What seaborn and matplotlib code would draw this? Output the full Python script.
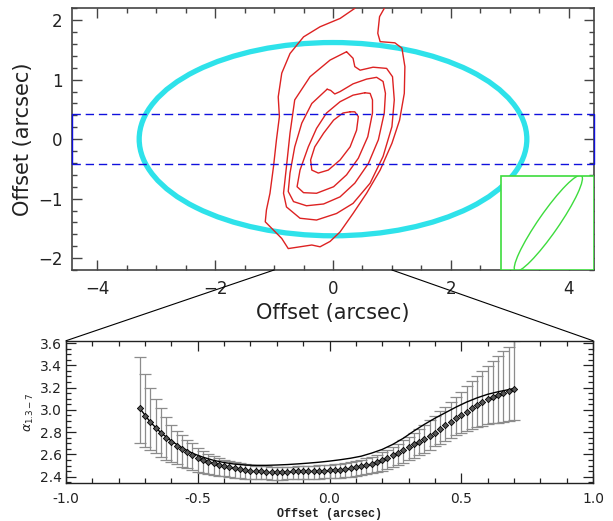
import numpy as np
import matplotlib
matplotlib.use("Agg")
import matplotlib.pyplot as plt
import seaborn as sns
from matplotlib.patches import Ellipse, Rectangle, ConnectionPatch
from matplotlib.ticker import MultipleLocator, FormatStrFormatter

# ---------------- map panel data (arcsec) ----------------
aperture_center = (0.0, 0.0)
aperture_semi_x = 3.29
aperture_semi_y = 1.625

slit_half_width = 0.42

beam_center = (3.655, -1.415)
beam_major = 1.96
beam_minor = 0.34
beam_angle = 55.0
beam_box_x0 = 2.85
beam_box_y1 = -0.62

# continuum contours, outermost first
contour1_x = [0.40, 0.37, 0.12, -0.22, -0.50, -0.73, -0.87, -0.93, -0.91, -0.96, -1.01, -1.07,
              -1.13, -1.15, -1.01, -0.87, -0.76, -0.56, -0.36, -0.22, -0.05, 0.12, 0.34, 0.57,
              0.80, 1.00, 1.13, 1.21, 1.22, 1.17, 1.05, 0.80, 0.76, 0.79, 0.87, 0.88]
contour1_y = [2.26, 2.20, 2.03, 1.89, 1.72, 1.44, 1.11, 0.71, 0.38, -0.01, -0.46, -0.91,
              -1.19, -1.39, -1.53, -1.67, -1.84, -1.81, -1.78, -1.81, -1.72, -1.56, -1.25, -0.91,
              -0.52, -0.07, 0.32, 0.77, 1.22, 1.53, 1.62, 1.64, 1.78, 2.06, 2.20, 2.26]

contour2_x = [0.23, -0.05, -0.39, -0.65, -0.73, -0.79, -0.84, -0.79, -0.56, -0.28, 0.06, 0.34,
              0.63, 0.85, 1.00, 1.04, 1.01, 0.91, 0.68, 0.46, 0.37, 0.34, 0.23]
contour2_y = [1.47, 1.33, 1.05, 0.66, 0.10, -0.46, -0.91, -1.14, -1.33, -1.36, -1.25, -1.08,
              -0.74, -0.29, 0.21, 0.66, 1.05, 1.19, 1.21, 1.16, 1.22, 1.36, 1.47]

contour3_x = [-0.10, -0.36, -0.53, -0.65, -0.73, -0.76, -0.67, -0.45, -0.16, 0.12, 0.37, 0.60,
              0.77, 0.87, 0.89, 0.85, 0.74, 0.57, 0.34, 0.12, 0.03, -0.04, -0.10]
contour3_y = [0.84, 0.60, 0.27, -0.13, -0.57, -0.88, -1.05, -1.12, -1.09, -0.97, -0.74, -0.41,
              -0.01, 0.44, 0.77, 0.97, 1.04, 1.01, 0.93, 0.80, 0.76, 0.82, 0.84]

contour4_x = [0.54, 0.34, 0.12, -0.11, -0.28, -0.42, -0.56, -0.61, -0.50, -0.28, 0.01, 0.23,
              0.43, 0.59, 0.67, 0.67, 0.63, 0.54]
contour4_y = [0.78, 0.74, 0.63, 0.44, 0.18, -0.13, -0.52, -0.80, -0.90, -0.91, -0.80, -0.60,
              -0.32, 0.04, 0.44, 0.66, 0.77, 0.78]

contour5_x = [0.29, 0.17, 0.01, -0.16, -0.31, -0.38, -0.36, -0.25, -0.08, 0.12, 0.29, 0.40,
              0.43, 0.37, 0.29]
contour5_y = [0.46, 0.44, 0.32, 0.10, -0.13, -0.35, -0.52, -0.57, -0.52, -0.35, -0.13, 0.15,
              0.38, 0.46, 0.46]

contours = [(contour1_x, contour1_y), (contour2_x, contour2_y), (contour3_x, contour3_y),
            (contour4_x, contour4_y), (contour5_x, contour5_y)]

# ---------------- spectral index profile ----------------
offset = np.round(np.arange(-0.72, 0.7001, 0.02), 2)
alpha = [3.014, 2.945, 2.888, 2.834, 2.789, 2.745, 2.709, 2.675, 2.646, 2.619,
         2.595, 2.572, 2.552, 2.535, 2.520, 2.506, 2.494, 2.483, 2.474, 2.466,
         2.460, 2.455, 2.451, 2.448, 2.446, 2.445, 2.445, 2.445, 2.446, 2.447,
         2.448, 2.448, 2.449, 2.450, 2.452, 2.454, 2.457, 2.460, 2.464, 2.469,
         2.475, 2.483, 2.493, 2.504, 2.517, 2.533, 2.550, 2.570, 2.592, 2.615,
         2.640, 2.665, 2.690, 2.715, 2.738, 2.765, 2.795, 2.827, 2.860, 2.893,
         2.925, 2.955, 2.983, 3.015, 3.045, 3.072, 3.097, 3.118, 3.138, 3.156,
         3.172, 3.186]
alpha_upper = [3.477, 3.322, 3.199, 3.094, 3.019, 2.940, 2.864, 2.813, 2.774, 2.730,
               2.700, 2.660, 2.630, 2.605, 2.585, 2.567, 2.552, 2.540, 2.529, 2.520,
               2.512, 2.505, 2.500, 2.496, 2.493, 2.491, 2.490, 2.490, 2.490, 2.491,
               2.493, 2.495, 2.497, 2.499, 2.502, 2.505, 2.509, 2.513, 2.518, 2.524,
               2.531, 2.540, 2.551, 2.564, 2.579, 2.597, 2.618, 2.642, 2.668, 2.697,
               2.728, 2.760, 2.794, 2.829, 2.866, 2.905, 2.945, 2.987, 3.030, 3.074,
               3.119, 3.165, 3.211, 3.258, 3.305, 3.352, 3.398, 3.443, 3.486, 3.527,
               3.565, 3.620]
alpha_lower = [2.705, 2.669, 2.640, 2.610, 2.580, 2.550, 2.535, 2.510, 2.490, 2.475,
               2.460, 2.445, 2.436, 2.426, 2.417, 2.409, 2.402, 2.396, 2.391, 2.387,
               2.383, 2.380, 2.378, 2.376, 2.375, 2.374, 2.374, 2.374, 2.375, 2.376,
               2.377, 2.378, 2.379, 2.380, 2.382, 2.384, 2.386, 2.389, 2.392, 2.396,
               2.401, 2.407, 2.414, 2.422, 2.431, 2.442, 2.455, 2.470, 2.487, 2.505,
               2.525, 2.546, 2.568, 2.591, 2.614, 2.638, 2.672, 2.698, 2.724, 2.748,
               2.771, 2.792, 2.812, 2.830, 2.846, 2.859, 2.870, 2.879, 2.886, 2.891,
               2.896, 2.905]

model_offset = [-0.72, -0.68, -0.64, -0.60, -0.56, -0.52, -0.48, -0.44, -0.40, -0.36,
                -0.32, -0.28, -0.24, -0.20, -0.16, -0.12, -0.08, -0.04, 0.00, 0.04,
                0.08, 0.12, 0.16, 0.20, 0.24, 0.28, 0.32, 0.36, 0.40, 0.44,
                0.48, 0.52, 0.56, 0.60, 0.64, 0.68, 0.70]
model_alpha = [3.014, 2.890, 2.795, 2.720, 2.660, 2.610, 2.575, 2.547, 2.527, 2.513,
               2.505, 2.502, 2.502, 2.505, 2.509, 2.515, 2.522, 2.530, 2.540, 2.552,
               2.566, 2.584, 2.612, 2.645, 2.690, 2.745, 2.810, 2.870, 2.925, 2.975,
               3.025, 3.070, 3.108, 3.140, 3.163, 3.182, 3.192]

map_xlim = (-4.43, 4.43)
map_ylim = (-2.2, 2.2)
prof_xlim = (-1.0, 1.0)
prof_ylim = (2.346, 3.621)

# ---------------- figure ----------------
sns.set_style("ticks")
plt.rcParams["font.family"] = ["DejaVu Sans"]

fig = plt.figure(figsize=(6.13, 5.21), dpi=100)
ax = fig.add_axes([0.1175, 0.4818, 0.8515, 0.5022])
ax2 = fig.add_axes([0.1077, 0.0735, 0.8597, 0.2725])

# map panel
ax.add_patch(Ellipse(aperture_center, 2 * aperture_semi_x, 2 * aperture_semi_y,
                     fill=False, ec="#2ee2ea", lw=3.8, zorder=2))
for cx, cy in contours:
    ax.plot(cx, cy, color="#dd2222", lw=1.0, zorder=3, solid_joinstyle="round")
for yy in (-slit_half_width, slit_half_width):
    ax.plot(map_xlim, [yy, yy], color="#1010dd", lw=1.0, dashes=(6, 3.5), zorder=4)
for xx in map_xlim:
    ax.plot([xx, xx], [-slit_half_width, slit_half_width], color="#1010dd", lw=1.0,
            zorder=6, clip_on=False)

box = Rectangle((beam_box_x0, map_ylim[0]), map_xlim[1] - beam_box_x0,
                beam_box_y1 - map_ylim[0], fc="white", ec="#3ddc3d", lw=1.2, zorder=5)
ax.add_patch(box)
beam = Ellipse(beam_center, beam_major, beam_minor, angle=beam_angle,
               fill=False, ec="#3ddc3d", lw=1.0, zorder=6)
ax.add_patch(beam)
beam.set_clip_path(box)

ax.set_xlim(*map_xlim)
ax.set_ylim(*map_ylim)
ax.xaxis.set_major_locator(MultipleLocator(2))
ax.xaxis.set_minor_locator(MultipleLocator(0.5))
ax.yaxis.set_major_locator(MultipleLocator(1))
ax.yaxis.set_minor_locator(MultipleLocator(0.2))
ax.tick_params(which="both", direction="in", top=True, right=True, color="#444444",
               width=1.0, labelsize=12, labelcolor="#222222")
ax.tick_params(which="major", length=7, pad=7)
ax.tick_params(which="minor", length=3.5)
for sp in ax.spines.values():
    sp.set_color("#444444")
    sp.set_linewidth(1.2)
ax.set_xlabel("Offset (arcsec)", fontsize=15, color="#222222")
ax.set_ylabel("Offset (arcsec)", fontsize=15, color="#222222")
ax.xaxis.set_label_coords(0.5, -0.125)
ax.yaxis.set_label_coords(-0.075, 0.5)

# profile panel
ax2.errorbar(offset, alpha,
             yerr=[np.array(alpha) - np.array(alpha_lower),
                   np.array(alpha_upper) - np.array(alpha)],
             fmt="none", ecolor="#8c8c8c", elinewidth=0.9, capsize=4, capthick=0.9,
             zorder=2)
sns.lineplot(x=model_offset, y=model_alpha, color="black", lw=1.0, ax=ax2, zorder=3)
sns.scatterplot(x=offset, y=alpha, marker="D", s=10, color="#555555",
                edgecolor="black", linewidth=0.6, ax=ax2, zorder=4)

ax2.set_xlim(*prof_xlim)
ax2.set_ylim(*prof_ylim)
ax2.xaxis.set_major_locator(MultipleLocator(0.5))
ax2.xaxis.set_minor_locator(MultipleLocator(0.1))
ax2.yaxis.set_major_locator(MultipleLocator(0.2))
ax2.yaxis.set_minor_locator(MultipleLocator(0.05))
ax2.xaxis.set_major_formatter(FormatStrFormatter("%.1f"))
ax2.yaxis.set_major_formatter(FormatStrFormatter("%.1f"))
ax2.tick_params(which="both", direction="in", top=True, right=True, color="#222222",
                width=0.9, labelsize=10, labelcolor="#222222")
ax2.tick_params(which="major", length=7, pad=3)
ax2.tick_params(axis="x", which="major", pad=7)
ax2.tick_params(which="minor", length=3.5)
for sp in ax2.spines.values():
    sp.set_color("#222222")
    sp.set_linewidth(1.0)
ax2.set_xlabel("Offset (arcsec)", fontsize=8.5, fontfamily="Liberation Mono",
               fontweight="bold", color="#222222", labelpad=1)
ax2.set_ylabel(r"$\alpha_{1.3-7}$", fontsize=9, color="#222222", labelpad=3)

# zoom guides from the map's offset range to the profile panel
for xx in prof_xlim:
    con = ConnectionPatch(xyA=(xx, map_ylim[0]), coordsA=ax.transData,
                          xyB=(xx, prof_ylim[1]), coordsB=ax2.transData,
                          color="black", lw=0.8)
    fig.add_artist(con)

fig.savefig("out.png", dpi=100)
